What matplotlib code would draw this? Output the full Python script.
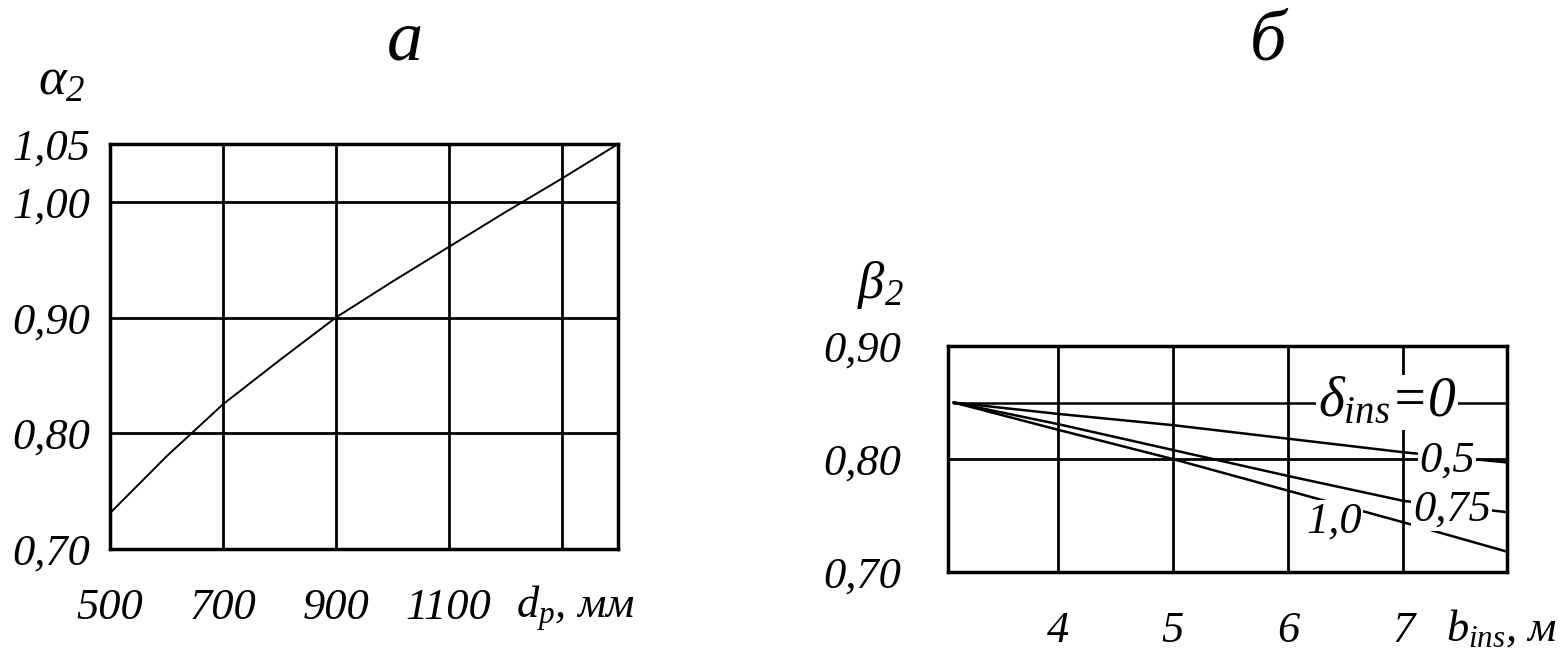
import numpy as np
import matplotlib
matplotlib.use("Agg")
import matplotlib.pyplot as plt

plt.rcParams['font.family'] = ['Liberation Serif', 'DejaVu Serif']
plt.rcParams['font.style'] = 'italic'
plt.rcParams['mathtext.fontset'] = 'custom'
plt.rcParams['mathtext.it'] = 'Liberation Serif:italic'
plt.rcParams['mathtext.rm'] = 'Liberation Serif:italic'

# panel a
dp = [500, 600, 700, 800, 900, 1000, 1100, 1200, 1300, 1400]
alpha2 = [0.731, 0.780, 0.825, 0.863, 0.900, 0.931, 0.961, 0.991, 1.020, 1.050]
dp_ticks = [500, 700, 900, 1100]
alpha_ticks = [0.70, 0.80, 0.90, 1.00, 1.05]

# panel b
b_ins = [3.1, 4, 5, 6, 7, 7.9]
beta_d0 = [0.85, 0.85, 0.85, 0.85, 0.85, 0.85]
beta_d05 = [0.85, 0.840, 0.830, 0.818, 0.806, 0.797]
beta_d075 = [0.85, 0.831, 0.808, 0.785, 0.763, 0.753]
beta_d10 = [0.85, 0.826, 0.800, 0.772, 0.744, 0.718]
b_ticks = [4, 5, 6, 7]
beta_ticks = [0.70, 0.80, 0.90]

def fmt(v, n=2):
    return f"{v:.{n}f}".replace('.', ',')

fig = plt.figure(figsize=(15.65, 6.49), dpi=100)
fig.patch.set_facecolor('white')

tick_fs = 32
lw_grid = 2.0

# ---- a ----
ax1 = fig.add_axes([0.0703, 0.1541, 0.3246, 0.624])
ax1.plot(dp, alpha2, color='black', lw=1.4, zorder=3)
ax1.set_xlim(500, 1400)
ax1.set_ylim(0.70, 1.05)
ax1.set_xticks(dp_ticks + [1300])
ax1.set_xticklabels([str(t) for t in dp_ticks] + [''])
ax1.set_yticks(alpha_ticks)
ax1.set_yticklabels([fmt(t) for t in alpha_ticks])
ax1.grid(True, color='black', lw=lw_grid)
ax1.tick_params(length=0, labelsize=tick_fs)
ax1.tick_params(axis='x', pad=28)
ax1.tick_params(axis='y', pad=14)
for s in ax1.spines.values():
    s.set_linewidth(2.5)
ax1.text(0.80, -0.145, r'$d_p$, мм', transform=ax1.transAxes, fontsize=tick_fs,
         ha='left', va='center')
fig.text(405 / 1565, 1 - 42 / 649, 'а', fontsize=52, ha='center', va='center')
fig.text(62 / 1565, 1 - 82 / 649, r'$\alpha_2$', fontsize=38, ha='center', va='center')

# ---- б ----
ax2 = fig.add_axes([0.6058, 0.1186, 0.3572, 0.3482])
ax2.set_xlim(3.05, 7.9)
ax2.set_ylim(0.70, 0.90)
ax2.plot(b_ins, beta_d0, color='black', lw=1.8, zorder=3)
ax2.plot(b_ins, beta_d05, color='black', lw=1.8, zorder=3)
ax2.plot(b_ins, beta_d075, color='black', lw=1.8, zorder=3)
ax2.plot(b_ins, beta_d10, color='black', lw=1.8, zorder=3)
ax2.set_xticks(b_ticks)
ax2.set_xticklabels([str(t) for t in b_ticks])
ax2.set_yticks(beta_ticks)
ax2.set_yticklabels([fmt(t) for t in beta_ticks])
ax2.grid(True, color='black', lw=lw_grid)
ax2.tick_params(length=0, labelsize=tick_fs)
ax2.tick_params(axis='x', pad=28)
ax2.tick_params(axis='y', pad=34)
for s in ax2.spines.values():
    s.set_linewidth(2.5)
box = dict(facecolor='white', edgecolor='none', pad=1)
ax2.text(6.86, 0.85, r'$\delta_{ins}$=0', fontsize=40, ha='center', va='center',
         bbox=box, zorder=4)
ax2.text(7.38, 0.799, '0,5', fontsize=32, ha='center', va='center', bbox=box, zorder=4)
ax2.text(7.42, 0.755, '0,75', fontsize=32, ha='center', va='center', bbox=box, zorder=4)
ax2.text(6.40, 0.745, '1,0', fontsize=32, ha='center', va='center', bbox=box, zorder=4)
ax2.text(0.99, -0.25, r'$b_{ins}$, м', transform=ax2.transAxes, fontsize=tick_fs,
         ha='center', va='center')
fig.text(1268 / 1565, 1 - 42 / 649, 'б', fontsize=52, ha='center', va='center')
fig.text(880 / 1565, 1 - 285 / 649, r'$\beta_2$', fontsize=38, ha='center', va='center')

fig.savefig('out.png', dpi=100, facecolor='white')
